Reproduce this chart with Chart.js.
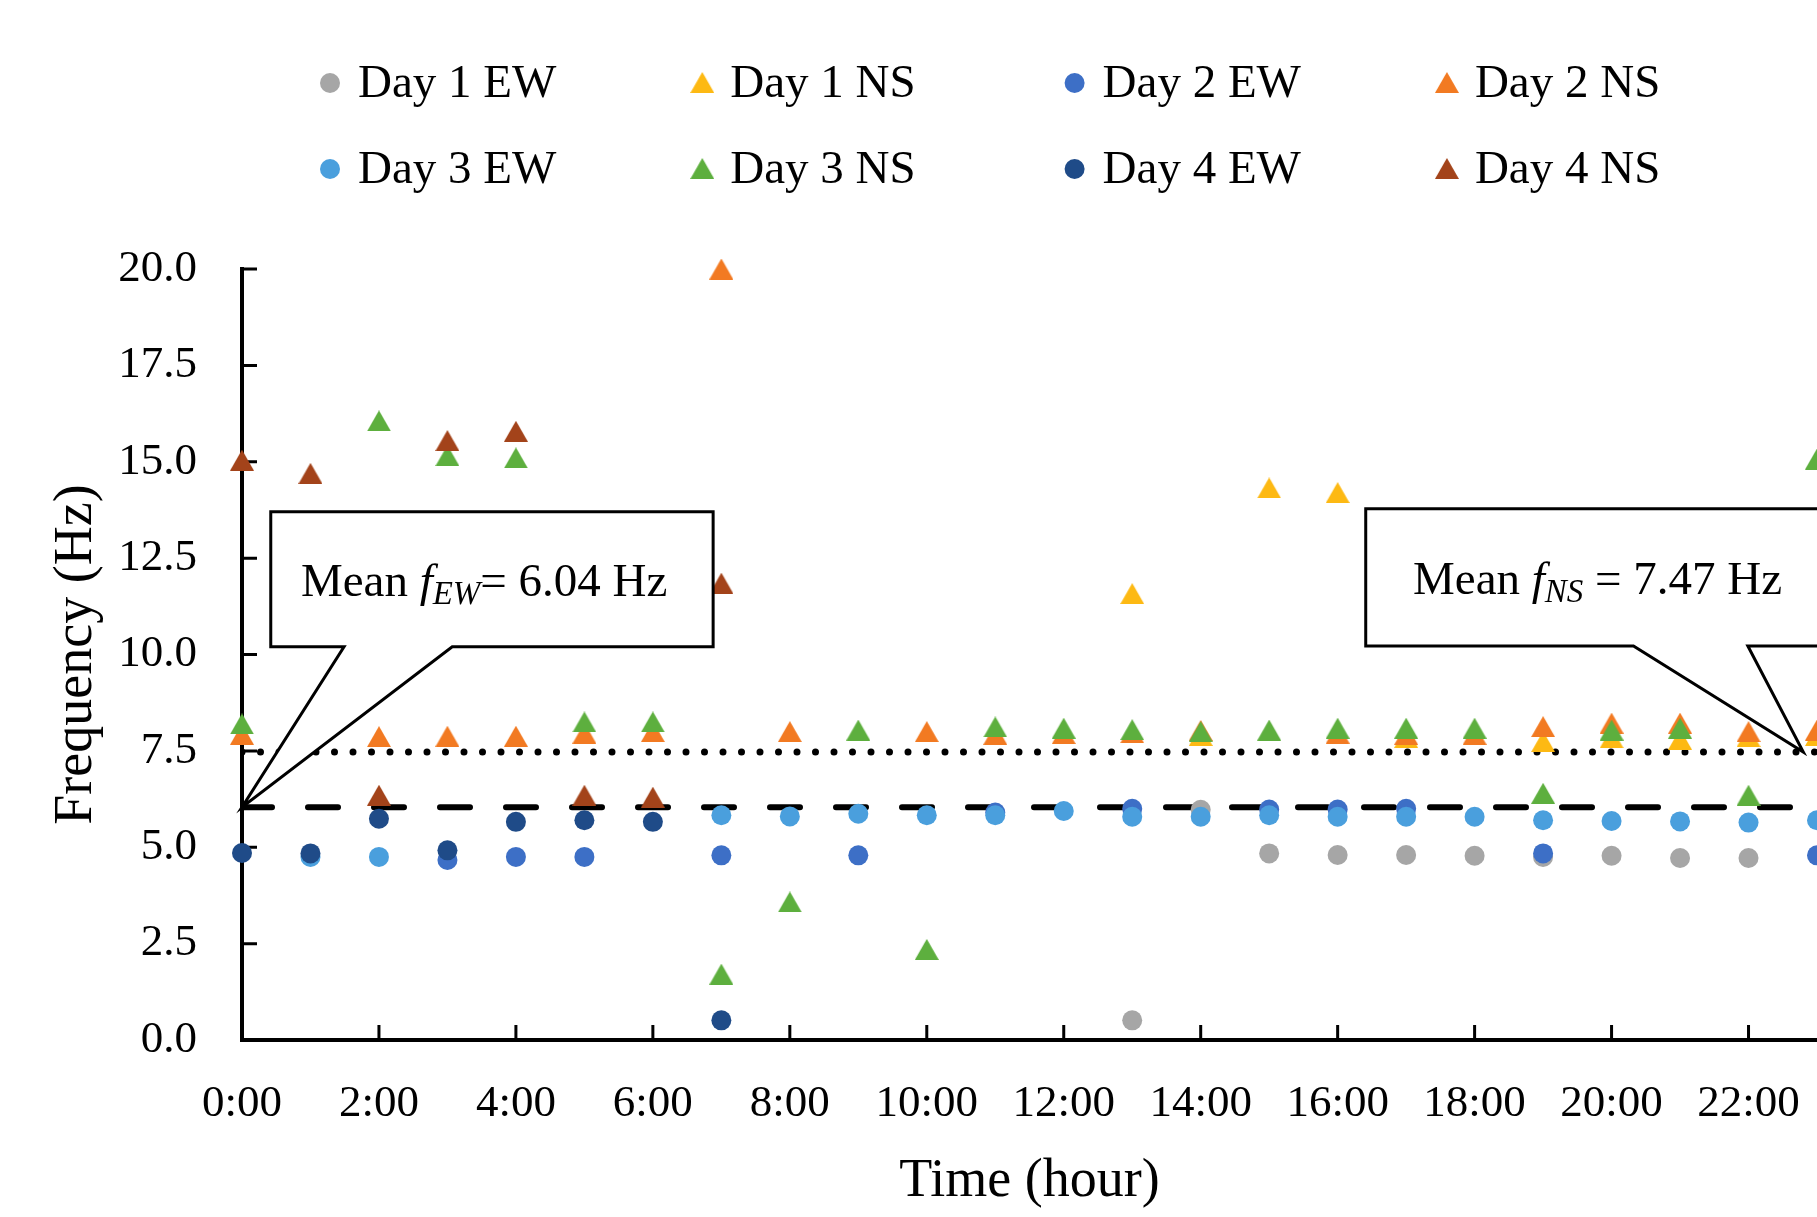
<!DOCTYPE html>
<html>
<head>
<meta charset="utf-8">
<title>Frequency (Hz) per hour</title>
<script src="https://cdn.jsdelivr.net/npm/chart.js@4.4.1/dist/chart.umd.min.js"></script>
<style>
  html, body { margin: 0; padding: 0; background: #fff; overflow: hidden; }
  canvas { display: block; }
</style>
</head>
<body>
<canvas id="chartFrecuencia" width="1817" height="1217"></canvas>
<script>
// horas del día (0:00 ... 23:00)
const hours = [0, 1, 2, 3, 4, 5, 6, 7, 8, 9, 10, 11, 12, 13, 14, 15, 16, 17, 18, 19, 20, 21, 22, 23];

const seriesLabels = ['Day 1 EW', 'Day 1 NS', 'Day 2 EW', 'Day 2 NS', 'Day 3 EW', 'Day 3 NS', 'Day 4 EW', 'Day 4 NS'];

// valores (null = punto no visible)
const day1EW = [null, null, null, null, null, null, null, null, null, null, null, null, null, 0.51, 5.97, 4.84, 4.80, 4.80, 4.78, 4.75, 4.78, 4.72, 4.72, null];
const day1NS = [null, null, null, null, null, null, null, null, null, null, null, null, null, 11.58, 7.90, 14.32, 14.20, 7.85, null, 7.74, 7.84, 7.80, 7.87, 7.90];
const day2EW = [null, null, null, 4.67, 4.75, 4.75, null, 4.79, null, 4.79, null, 5.90, null, 6.00, null, 5.98, 5.98, 6.00, null, 4.84, null, null, null, 4.79];
const day2NS = [7.93, null, 7.87, 7.88, 7.88, 7.96, 8.00, 20.00, 8.00, null, 8.00, 7.93, 7.95, 7.97, 8.03, null, 7.96, 7.93, 7.93, 8.13, 8.22, 8.22, 8.00, 8.04];
const day3EW = [null, 4.75, 4.75, null, null, null, null, 5.83, 5.80, 5.87, 5.83, 5.83, 5.94, 5.79, 5.79, 5.83, 5.79, 5.79, 5.79, 5.70, 5.68, 5.67, 5.64, 5.70];
const day3NS = [8.20, null, 16.06, 15.16, 15.10, 8.25, 8.25, 1.71, 3.58, 8.04, 2.35, 8.12, 8.09, 8.05, 8.00, 8.04, 8.09, 8.09, 8.09, 6.40, 8.04, 8.09, 6.35, 15.07];
const day4EW = [4.85, 4.84, 5.74, 4.92, 5.66, 5.70, 5.66, 0.51, null, null, null, null, null, null, null, null, null, null, null, null, null, null, null, null];
const day4NS = [15.04, 14.70, 6.35, 15.55, 15.79, 6.35, 6.30, 11.85, null, null, null, null, null, null, null, null, null, null, null, null, null, null, null, null];

const meanEW = 6.04;
const meanNS = 7.47;

const xTicks = [0, 2, 4, 6, 8, 10, 12, 14, 16, 18, 20, 22];
const yTicks = [0, 2.5, 5, 7.5, 10, 12.5, 15, 17.5, 20];

const seriesValues = [day1EW, day1NS, day2EW, day2NS, day3EW, day3NS, day4EW, day4NS];
const seriesColors = ['#A6A6A6', '#FDB913', '#3D6FC6', '#F27A22', '#4A9FDD', '#5DAF3E', '#1F4B88', '#A3431A'];

const xMax = 23;
const serif = '"Liberation Serif", "DejaVu Serif", serif';

// triángulo centrado como en Excel
function makeTriangle(color) {
    const c = document.createElement('canvas');
    c.width = 24;
    c.height = 21;
    const g = c.getContext('2d');
    g.fillStyle = color;
    g.beginPath();
    g.moveTo(12, 0);
    g.lineTo(24, 21);
    g.lineTo(0, 21);
    g.closePath();
    g.fill();
    return c;
}

function toPoints(values) {
    return hours.map((h, i) => ({ x: h, y: values[i] })).filter(p => p.y !== null);
}

const pointDatasets = seriesValues.map((values, i) => {
    const isNS = i % 2 === 1;
    return {
        label: seriesLabels[i],
        data: toPoints(values),
        pointStyle: isNS ? makeTriangle(seriesColors[i]) : 'circle',
        pointRadius: isNS ? 12 : 10,
        backgroundColor: seriesColors[i],
        borderColor: seriesColors[i],
        borderWidth: 0,
        clip: false,
        order: 10 - i
    };
});

const meanDatasets = [
    {
        type: 'line',
        label: 'Mean EW',
        data: [{ x: 0, y: meanEW }, { x: xMax, y: meanEW }],
        borderColor: '#000',
        borderWidth: 6,
        borderDash: [30, 36],
        borderCapStyle: 'round',
        pointRadius: 0,
        order: 20
    },
    {
        type: 'line',
        label: 'Mean NS',
        data: [{ x: 0, y: meanNS }, { x: xMax, y: meanNS }],
        borderColor: '#000',
        borderWidth: 7,
        borderDash: [0, 18.5],
        borderCapStyle: 'round',
        pointRadius: 0,
        order: 21
    }
];

// marcas de los ejes hacia dentro
const innerTicksPlugin = {
    id: 'innerTicks',
    beforeDatasetsDraw(chart) {
        const { ctx, chartArea, scales } = chart;
        ctx.save();
        ctx.strokeStyle = '#000';
        ctx.lineWidth = 3;
        ctx.beginPath();
        yTicks.forEach(v => {
            const py = scales.y.getPixelForValue(v);
            ctx.moveTo(chartArea.left, py);
            ctx.lineTo(chartArea.left + 15, py);
        });
        xTicks.forEach(v => {
            const px = scales.x.getPixelForValue(v);
            ctx.moveTo(px, chartArea.bottom);
            ctx.lineTo(px, chartArea.bottom - 15);
        });
        ctx.stroke();
        ctx.restore();
    }
};

// llamadas con el valor medio
const callouts = [
    { box: [0.42, 6.88, 10.2, 13.7], tail: [1.49, 3.07], tip: [0, meanEW], textStart: 0.86, sub: 'EW', rest: '= ' + meanEW.toFixed(2) + ' Hz' },
    { box: [16.41, 24.5, 10.22, 13.78], tail: [20.32, 21.99], tip: [22.8, meanNS], textStart: 17.1, sub: 'NS', rest: ' = ' + meanNS.toFixed(2) + ' Hz' }
];

const calloutPlugin = {
    id: 'callouts',
    afterDatasetsDraw(chart) {
        const { ctx, scales } = chart;
        const xs = scales.x, ys = scales.y;
        callouts.forEach(c => {
            const L = xs.getPixelForValue(c.box[0]);
            const R = xs.getPixelForValue(c.box[1]);
            const B = ys.getPixelForValue(c.box[2]);
            const T = ys.getPixelForValue(c.box[3]);
            const b1 = xs.getPixelForValue(c.tail[0]);
            const b2 = xs.getPixelForValue(c.tail[1]);
            const tx = xs.getPixelForValue(c.tip[0]);
            const ty = ys.getPixelForValue(c.tip[1]);
            ctx.save();
            ctx.beginPath();
            ctx.moveTo(L, T);
            ctx.lineTo(R, T);
            ctx.lineTo(R, B);
            ctx.lineTo(b2, B);
            ctx.lineTo(tx, ty);
            ctx.lineTo(b1, B);
            ctx.lineTo(L, B);
            ctx.closePath();
            ctx.fillStyle = '#fff';
            ctx.fill();
            ctx.strokeStyle = '#000';
            ctx.lineWidth = 3;
            ctx.lineJoin = 'miter';
            ctx.stroke();

            const base = (T + B) / 2 + 17;
            let x = xs.getPixelForValue(c.textStart);
            ctx.fillStyle = '#000';
            ctx.textBaseline = 'alphabetic';
            ctx.textAlign = 'left';
            const parts = [
                { t: 'Mean ', font: '47px ' + serif, dy: 0 },
                { t: 'f', font: 'italic 47px ' + serif, dy: 0 },
                { t: c.sub, font: 'italic 33px ' + serif, dy: 8 },
                { t: c.rest, font: '47px ' + serif, dy: 0 }
            ];
            parts.forEach(p => {
                ctx.font = p.font;
                ctx.fillText(p.t, x, base + p.dy);
                x += ctx.measureText(p.t).width;
            });
            ctx.restore();
        });
    }
};

// leyenda en dos filas de cuatro
const legendPlugin = {
    id: 'gridLegend',
    afterDraw(chart) {
        const ctx = chart.ctx;
        ctx.save();
        ctx.font = '47px ' + serif;
        ctx.fillStyle = '#000';
        ctx.textBaseline = 'middle';
        ctx.textAlign = 'left';
        chart.data.datasets.slice(0, seriesLabels.length).forEach((ds, i) => {
            const cx = 330 + (i % 4) * 372.3;
            const cy = 83 + Math.floor(i / 4) * 86;
            if (typeof ds.pointStyle === 'string') {
                ctx.beginPath();
                ctx.fillStyle = ds.backgroundColor;
                ctx.arc(cx, cy, 10, 0, Math.PI * 2);
                ctx.fill();
            } else {
                ctx.drawImage(ds.pointStyle, cx - 12, cy - 11);
            }
            ctx.fillStyle = '#000';
            ctx.fillText(ds.label, cx + 28, cy + 2);
        });
        ctx.restore();
    }
};

const ctxFrecuencia = document.getElementById('chartFrecuencia').getContext('2d');
const chartFrecuencia = new Chart(ctxFrecuencia, {
    type: 'scatter',
    data: {
        datasets: [...pointDatasets, ...meanDatasets]
    },
    options: {
        responsive: false,
        animation: false,
        devicePixelRatio: 1,
        events: [],
        layout: {
            autoPadding: false,
            padding: { top: 269, right: 0, bottom: 0, left: 0 }
        },
        plugins: {
            legend: { display: false },
            tooltip: { enabled: false }
        },
        scales: {
            x: {
                type: 'linear',
                min: 0,
                max: xMax,
                afterBuildTicks: scale => { scale.ticks = xTicks.map(v => ({ value: v })); },
                afterFit: scale => {
                    scale.height = 177;
                    scale.paddingLeft = 0;
                    scale.paddingRight = 0;
                },
                grid: { display: false, drawTicks: false },
                border: { display: true, color: '#000', width: 4 },
                ticks: {
                    padding: 0,
                    color: '#000',
                    autoSkip: false,
                    maxRotation: 0,
                    font: { family: serif, size: 45, lineHeight: 2.84 },
                    callback: v => v + ':00'
                },
                title: {
                    display: true,
                    text: 'Time (hour)',
                    color: '#000',
                    font: { family: serif, size: 54 },
                    padding: { top: 0, bottom: 3 }
                }
            },
            y: {
                min: 0,
                max: 20,
                afterBuildTicks: scale => { scale.ticks = yTicks.map(v => ({ value: v })); },
                afterFit: scale => { scale.width = 242; },
                grid: { display: false, drawTicks: false },
                border: { display: true, color: '#000', width: 4 },
                ticks: {
                    padding: 45,
                    color: '#000',
                    font: { family: serif, size: 45 },
                    callback: v => Number(v).toFixed(1)
                },
                title: {
                    display: true,
                    text: 'Frequency (Hz)',
                    color: '#000',
                    font: { family: serif, size: 54 },
                    padding: { top: 44, bottom: 0 }
                }
            }
        }
    },
    plugins: [innerTicksPlugin, calloutPlugin, legendPlugin]
});
</script>
</body>
</html>
